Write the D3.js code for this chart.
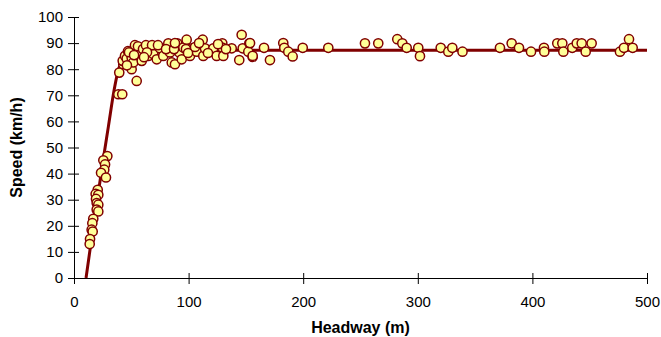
<!DOCTYPE html>
<html>
<head>
<meta charset="utf-8">
<script src="https://cdn.jsdelivr.net/npm/d3@7"></script>
<style>
  body { margin: 0; background: #fff; }
  svg text { font-family: "Liberation Sans", Arial, sans-serif; }
</style>
</head>
<body>
<div id="chart"></div>
<script>
// observed headway (m) / speed (km/h) pairs
const headway = [
  29.1, 25.6, 27.1, 26.4, 23.6, 27.9, 20.7, 18.9, 21.2, 19.2, 19.8, 21.2, 19.8, 21.2,
  16.8, 16.0, 15.4, 16.3, 14.0, 13.7,
  38.7, 42.1, 54.7, 39.5, 43.0, 42.5, 44.5, 46.0, 50.3, 50.3, 51.7, 54.7, 57.6, 59.1,
  62.0, 64.8, 66.3, 69.2, 72.2, 75.0, 77.9, 82.3, 83.8, 85.3, 88.1, 90.1, 91.9, 94.0,
  95.4, 98.3, 101.2, 102.7, 107.1, 112.3, 112.8, 114.3, 120.2, 121.6, 124.5, 129.4,
  129.4, 130.3, 137.6, 144.2, 146.3, 147.2, 153.0, 152.1, 155.9,
  47.1, 53.2, 55.8, 60.2, 62.8, 68.1, 73.3, 63.7, 46.2, 48.0, 52.4, 61.1, 80.3, 87.3,
  88.1, 97.7, 99.5, 105.6, 109.1, 116.9, 125.7, 132.6,
  153.6, 165.8, 155.9, 171.0, 182.6, 183.5, 187.0, 190.8, 199.6, 221.9, 253.9, 265.5,
  282.1, 286.5, 290.3, 300.4, 301.9, 320.0, 326.6, 330.1, 339.0, 371.7, 381.9, 388.3,
  398.8, 410.1, 410.4, 421.7, 426.1, 427.0, 434.8, 438.7, 443.0, 446.5, 451.7, 476.4,
  479.9, 484.3, 487.5
];
const speed = [
  46.7, 45.1, 43.5, 41.5, 40.3, 38.5, 33.8, 32.2, 31.9, 30.3, 28.7, 28.1, 26.2, 25.5,
  22.7, 21.0, 18.5, 17.8, 14.9, 13.0,
  70.4, 70.4, 75.5, 78.7, 81.9, 83.2, 85.1, 84.1, 80.0, 84.5, 82.6, 87.7, 86.4, 83.2,
  88.3, 85.1, 88.0, 85.8, 83.8, 88.0, 85.1, 89.9, 86.4, 82.6, 81.9, 89.9, 86.4, 83.8,
  88.3, 91.3, 85.1, 88.0, 86.7, 91.3, 85.1, 88.0, 86.7, 88.0, 85.1, 89.9,
  88.3, 85.1, 88.0, 83.5, 93.2, 88.0, 89.9, 86.7, 84.7,
  86.9, 89.2, 88.8, 87.7, 89.2, 89.2, 89.2, 86.5, 81.5, 86.5, 85.4, 84.6, 87.7, 87.7,
  90.0, 87.7, 86.2, 88.5, 90.0, 86.2, 89.6, 87.7,
  90.0, 88.2, 85.1, 83.5, 90.0, 88.2, 86.7, 84.9, 88.2, 88.2, 89.9, 89.9,
  91.5, 89.9, 88.2, 88.2, 85.0, 88.2, 86.7, 88.2, 86.7, 88.2, 89.9, 88.2,
  86.7, 88.2, 86.7, 89.9, 89.9, 86.7, 88.2, 89.9, 89.9, 86.7, 89.9, 86.7,
  88.2, 91.5, 88.2
];

// fitted speed-headway curve
const fitHeadway = [10.5, 15, 20, 25, 30, 35, 38, 41, 45, 50, 55, 60, 70, 100, 500];
const fitSpeed   = [0, 14, 29, 44, 58, 72, 78.5, 82.5, 85, 86.3, 86.9, 87.1, 87.3, 87.3, 87.3];

const xTicks = [0, 100, 200, 300, 400, 500];
const yTicks = [0, 10, 20, 30, 40, 50, 60, 70, 80, 90, 100];

const WIDTH = 661, HEIGHT = 337;
const margin = {left: 74, right: 14, top: 17, bottom: 59};

const svg = d3.select("#chart").append("svg")
  .attr("width", WIDTH)
  .attr("height", HEIGHT);

const x = d3.scaleLinear().domain([0, 500]).range([margin.left, WIDTH - margin.right]);
const y = d3.scaleLinear().domain([0, 100]).range([HEIGHT - margin.bottom, margin.top]);

// axes, ticks crossing the line
const xAxis = svg.append("g")
  .attr("transform", "translate(0," + y(0) + ")")
  .call(d3.axisBottom(x).tickValues(xTicks).tickSize(6).tickSizeOuter(0).tickPadding(12));
xAxis.selectAll(".tick line").attr("y1", -5);
xAxis.selectAll(".tick text").attr("font-size", "15px").attr("fill", "#000");

const yAxis = svg.append("g")
  .attr("transform", "translate(" + x(0) + ",0)")
  .call(d3.axisLeft(y).tickValues(yTicks).tickSize(6).tickSizeOuter(0).tickPadding(5));
yAxis.selectAll(".tick line").attr("x1", 5);
yAxis.selectAll(".tick text").attr("font-size", "15px").attr("fill", "#000");

svg.selectAll(".domain").attr("stroke", "#000");
svg.selectAll(".tick line").attr("stroke", "#000");

// fitted curve
const line = d3.line()
  .x((d, i) => x(fitHeadway[i]))
  .y(d => y(d))
  .curve(d3.curveMonotoneX);

svg.append("path")
  .datum(fitSpeed)
  .attr("d", line)
  .attr("fill", "none")
  .attr("stroke", "#800000")
  .attr("stroke-width", 3);

// observations
svg.selectAll("circle.obs")
  .data(speed)
  .enter()
  .append("circle")
    .attr("class", "obs")
    .attr("cx", (d, i) => x(headway[i]))
    .attr("cy", d => y(d))
    .attr("r", 4.6)
    .attr("fill", "#ffff99")
    .attr("stroke", "#800000")
    .attr("stroke-width", 1.5);

// axis titles
svg.append("text")
  .attr("x", (x(0) + x(500)) / 2)
  .attr("y", 333)
  .attr("text-anchor", "middle")
  .attr("font-size", "16px")
  .attr("font-weight", "bold")
  .text("Headway (m)");

svg.append("text")
  .attr("transform", "translate(22," + (y(0) + y(100)) / 2 + ") rotate(-90)")
  .attr("text-anchor", "middle")
  .attr("font-size", "16px")
  .attr("font-weight", "bold")
  .text("Speed (km/h)");
</script>
</body>
</html>
